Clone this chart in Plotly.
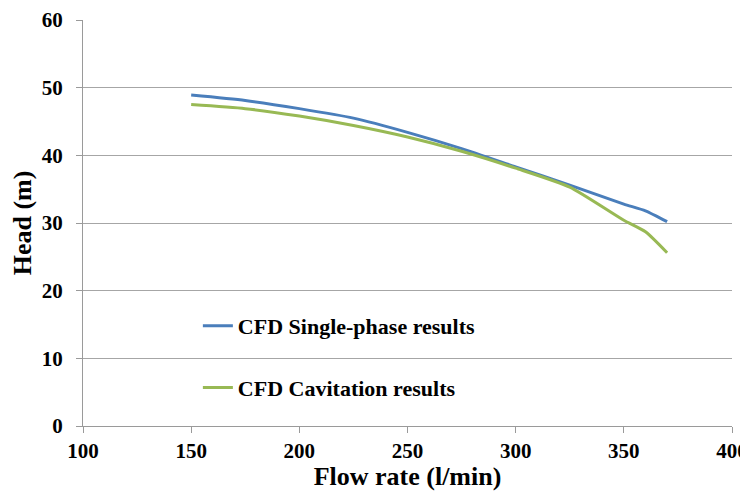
import plotly.graph_objects as go

flow = [150, 175, 200, 225, 250, 275, 300, 325, 350, 360, 370]
single_phase = [48.9, 48.1, 46.9, 45.5, 43.4, 41.0, 38.3, 35.6, 32.8, 31.8, 30.2]
cavitation = [47.5, 46.9, 45.8, 44.4, 42.7, 40.6, 38.1, 35.3, 30.4, 28.7, 25.6]

x_ticks = [100, 150, 200, 250, 300, 350, 400]
y_ticks = [0, 10, 20, 30, 40, 50, 60]

FONT = "Liberation Serif"

fig = go.Figure()
fig.add_trace(go.Scatter(
    x=flow, y=single_phase, mode="lines", name="<b>CFD Single-phase results</b>",
    line=dict(color="#4a7ebb", width=3, shape="spline", smoothing=0.6),
    legendgroup="a"))
fig.add_trace(go.Scatter(
    x=flow, y=cavitation, mode="lines", name="<b>CFD Cavitation results</b>",
    line=dict(color="#98b954", width=3, shape="spline", smoothing=0.6),
    legendgroup="b"))

# page has an 8px body margin, so the figure is sized to 740x483
fig.update_layout(
    width=740, height=483,
    margin=dict(l=75, r=16, t=12, b=65, autoexpand=False),
    paper_bgcolor="white", plot_bgcolor="white",
    font=dict(family=FONT, color="black", size=21),
    showlegend=True,
    legend=dict(x=0.177, y=0.298, xanchor="left", yanchor="top",
                bgcolor="rgba(0,0,0,0)", tracegroupgap=30,
                font=dict(family=FONT, size=22, color="black")),
    xaxis=dict(range=[100, 400], tickvals=x_ticks,
               ticktext=[f"<b>{v}</b>" for v in x_ticks],
               showgrid=False, zeroline=False, automargin=True,
               showline=True, linecolor="#9a9a9a", linewidth=1,
               ticks="outside", ticklen=6, tickcolor="#9a9a9a",
               ticklabelstandoff=0, ticklabeloverflow="allow",
               tickfont=dict(family=FONT, size=21, color="black"),
               title=dict(text="<b>Flow rate (l/min)</b>", standoff=4,
                          font=dict(family=FONT, size=26, color="black"))),
    yaxis=dict(range=[0, 60], tickvals=y_ticks,
               ticktext=[f"<b>{v}</b>" for v in y_ticks],
               showgrid=True, gridcolor="#a6a6a6", gridwidth=1,
               zeroline=False, automargin=True,
               showline=True, linecolor="#9a9a9a", linewidth=1,
               ticks="outside", ticklen=6, tickcolor="#9a9a9a",
               ticklabelstandoff=9,
               tickfont=dict(family=FONT, size=21, color="black"),
               title=dict(text="<b>Head (m)</b>", standoff=14,
                          font=dict(family=FONT, size=26, color="black"))),
)

fig.write_html("out.html")
